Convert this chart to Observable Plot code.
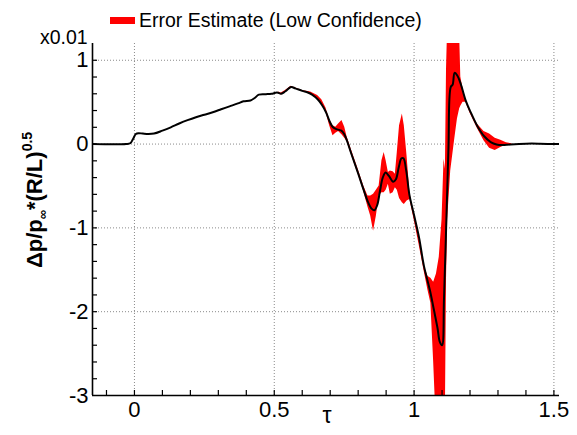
<!DOCTYPE html>
<html>
<head>
<meta charset="utf-8">
<script src="https://cdn.jsdelivr.net/npm/d3@7"></script>
<script src="https://cdn.jsdelivr.net/npm/@observablehq/plot@0.6"></script>
<style>
  html, body { margin: 0; padding: 0; background: #fff; }
  svg { font-family: "Liberation Sans", Arial, sans-serif; }
</style>
</head>
<body>
<div id="chart"></div>
<script>
// ---- data ----
const lineTau = [-0.15,-0.03,-0.015,-0.005,0.005,0.015,0.03,0.05,0.07,0.1,0.13,0.16,0.19,0.22,0.25,0.28,0.31,0.34,0.37,0.39,0.415,0.43,0.445,0.47,0.49,0.51,0.525,0.54,0.56,0.575,0.6,0.62,0.635,0.655,0.67,0.685,0.698,0.71,0.725,0.74,0.75,0.76,0.775,0.8,0.82,0.835,0.848,0.858,0.868,0.878,0.888,0.898,0.91,0.925,0.935,0.945,0.955,0.962,0.972,0.983,1.0,1.018,1.035,1.057,1.071,1.084,1.092,1.1,1.107,1.116,1.123,1.131,1.138,1.145,1.155,1.167,1.185,1.203,1.226,1.25,1.274,1.295,1.315,1.345,1.4,1.45,1.52];
const lineVal = [0,0,0.01,0.06,0.12,0.13,0.125,0.12,0.125,0.16,0.2,0.245,0.285,0.32,0.35,0.38,0.415,0.45,0.485,0.51,0.52,0.55,0.59,0.595,0.6,0.615,0.6,0.63,0.68,0.665,0.635,0.615,0.59,0.535,0.47,0.38,0.27,0.2,0.175,0.16,0.12,0.04,-0.11,-0.35,-0.55,-0.69,-0.77,-0.79,-0.73,-0.56,-0.4,-0.34,-0.38,-0.45,-0.42,-0.28,-0.17,-0.17,-0.32,-0.6,-0.85,-1.12,-1.45,-1.75,-1.98,-2.2,-2.36,-2.4,-1.84,-0.84,-0.04,0.68,0.71,0.85,0.815,0.715,0.515,0.375,0.216,0.096,0.024,-0.005,-0.012,-0.004,0.005,0.005,0];

const bandTau  = [0.515,0.525,0.54,0.56,0.6,0.63,0.655,0.67,0.685,0.698,0.71,0.72,0.73,0.742,0.752,0.76,0.775,0.8,0.82,0.835,0.845,0.855,0.865,0.875,0.885,0.893,0.9,0.908,0.915,0.925,0.933,0.94,0.948,0.958,0.965,0.975,0.985,1.0,1.018,1.035,1.05,1.06,1.07,1.08,1.09,1.1,1.107,1.112,1.116,1.12,1.131,1.145,1.155,1.163,1.167,1.175,1.185,1.2,1.226,1.25,1.27,1.29,1.31,1.33,1.35];
const bandLow  = [0.60,0.585,0.62,0.675,0.63,0.595,0.535,0.47,0.38,0.22,0.1,0.13,0.15,0.11,0.07,0.03,-0.12,-0.36,-0.57,-0.75,-0.86,-1.04,-0.86,-0.62,-0.58,-0.58,-0.55,-0.48,-0.6,-0.58,-0.52,-0.55,-0.65,-0.7,-0.72,-0.68,-0.66,-0.9,-1.2,-1.5,-1.75,-1.9,-2.6,-3.4,-3.5,-3.5,-3.5,-3.2,-1.6,-0.9,-0.32,0.05,0.3,0.42,0.45,0.5,0.5,0.37,0.19,0.04,-0.05,-0.076,-0.04,-0.01,-0.005];
const bandHigh = [0.62,0.61,0.64,0.69,0.64,0.62,0.58,0.53,0.43,0.29,0.22,0.2,0.24,0.28,0.2,0.09,-0.06,-0.3,-0.5,-0.62,-0.62,-0.6,-0.55,-0.5,-0.2,-0.1,-0.2,-0.34,-0.32,-0.33,-0.36,-0.1,0.22,0.36,0.22,-0.15,-0.58,-0.85,-1.12,-1.45,-1.58,-1.6,-1.65,-1.55,-1.35,-0.9,-0.18,-0.3,0.9,1.4,1.4,1.4,1.4,1.3,0.8,0.66,0.53,0.4,0.24,0.15,0.12,0.07,0.045,0.015,0.005];

const xDomain = [-0.15, 1.52];
const yDomain = [-3, 1.2];
const xTickLabels = [0, 0.5, 1, 1.5];
const yTickLabels = [-3, -2, -1, 0, 1];
const xGrid = [0, 0.5, 1, 1.5];
const yGrid = [-2, -1, 0, 1];
const xMinor = [-0.1,0,0.1,0.2,0.3,0.4,0.5,0.6,0.7,0.8,0.9,1,1.1,1.2,1.3,1.4,1.5];
const yMinor = [-2.8,-2.6,-2.4,-2.2,-2,-1.8,-1.6,-1.4,-1.2,-1,-0.8,-0.6,-0.4,-0.2,0,0.2,0.4,0.6,0.8,1];

const legendLabel = "Error Estimate (Low Confidence)";
const scaleNote = "x0.01";
const xLabel = "τ";

// ---- build ----
const lineData = lineTau.map((t, i) => ({t, v: lineVal[i]}));
const bandData = bandTau.map((t, i) => ({t, lo: bandLow[i], hi: bandHigh[i]}));

const W = 577, H = 435;
const mL = 92, mR = 18, mT = 43, mB = 40;
const plotW = W - mL - mR, plotH = H - mT - mB;

const chart = Plot.plot({
  width: W, height: H,
  marginLeft: mL, marginRight: mR, marginTop: mT, marginBottom: mB,
  style: {fontFamily: "'Liberation Sans', Arial, sans-serif", background: "#fff", color: "#000"},
  x: {domain: xDomain},
  y: {domain: yDomain},
  marks: [
    Plot.ruleX(xGrid, {stroke: "#8a8a8a", strokeDasharray: "1,2", strokeWidth: 1}),
    Plot.ruleY(yGrid, {stroke: "#8a8a8a", strokeDasharray: "1,2", strokeWidth: 1}),
    Plot.areaY(bandData, {x: "t", y1: "lo", y2: "hi", fill: "#ff0000", curve: "linear", clip: true}),
    Plot.line(lineData, {x: "t", y: "v", stroke: "#000", strokeWidth: 2, curve: "catmull-rom", clip: true}),
    Plot.tickX(xMinor, {x: d => d, insetTop: plotH - 5, stroke: "#000", strokeWidth: 1.2}),
    Plot.tickY(yMinor, {y: d => d, insetRight: plotW - 5, stroke: "#000", strokeWidth: 1.2}),
    Plot.ruleX([xDomain[0]], {stroke: "#000", strokeWidth: 1.6}),
    Plot.ruleY([yDomain[0]], {stroke: "#000", strokeWidth: 1.6}),
    Plot.axisX(xTickLabels, {tickSize: 0, tickPadding: 6, fontSize: 22, tickFormat: d => String(d), label: null}),
    Plot.axisY(yTickLabels, {tickSize: 0, tickPadding: 4, fontSize: 22, tickFormat: d => String(d), label: null})
  ]
});

document.getElementById("chart").appendChild(chart);

const svg = d3.select(chart);
const ff = "'Liberation Sans', Arial, sans-serif";

// legend
svg.append("rect").attr("x", 110).attr("y", 17).attr("width", 25).attr("height", 7).attr("fill", "#ff0000");
svg.append("text").attr("x", 139).attr("y", 27).attr("text-anchor", "start").attr("font-size", 19.5).attr("font-family", ff).attr("fill", "#000").text(legendLabel);

// scale note
svg.append("text").attr("x", 40).attr("y", 43.5).attr("text-anchor", "start").attr("font-size", 19.5).attr("font-family", ff).attr("fill", "#000").text(scaleNote);

// x label
svg.append("text").attr("x", 327).attr("y", 423).attr("text-anchor", "middle").attr("font-size", 23).attr("font-family", ff).attr("fill", "#000").text(xLabel);

// y label with sub/superscript
const yl = svg.append("text")
  .attr("transform", "translate(42,200) rotate(-90)")
  .attr("text-anchor", "middle")
  .attr("font-size", 22).attr("font-weight", "bold").attr("font-family", ff).attr("fill", "#000");
yl.append("tspan").text("Δp/p");
yl.append("tspan").attr("font-size", 13).attr("dy", 5).text("∞");
yl.append("tspan").attr("dy", -5).text("*(R/L)");
yl.append("tspan").attr("font-size", 14).attr("dy", -10).text("0.5");
</script>
</body>
</html>
